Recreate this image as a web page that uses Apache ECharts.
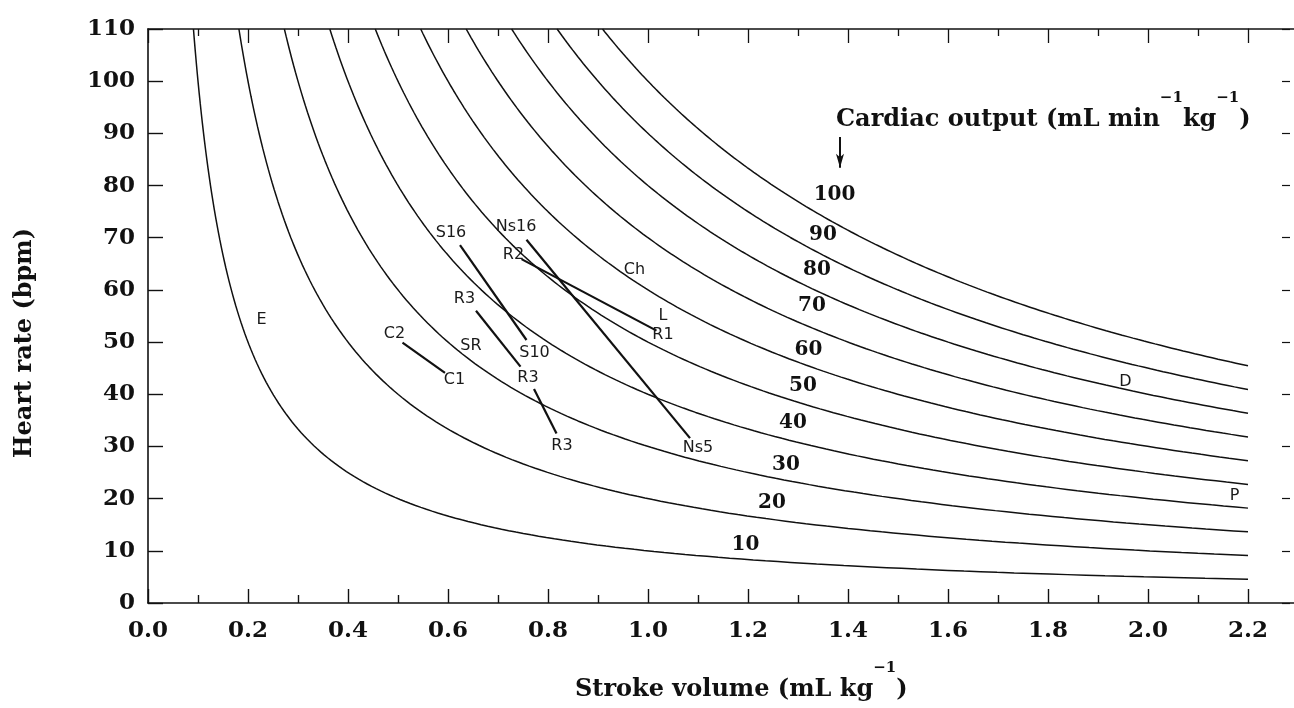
<!DOCTYPE html>
<html>
<head>
<meta charset="utf-8">
<script src="https://cdn.jsdelivr.net/npm/echarts@6/dist/echarts.min.js"></script>
<style>
  html, body { margin: 0; padding: 0; background: #ffffff; }
  #chart { width: 1294px; height: 708px; }
</style>
</head>
<body>
<div id="chart"></div>
<script>
// Heart rate against stroke volume, with cardiac-output isopleths (CO = HR x SV)

// axis ticks
const svTicks = [0.0, 0.2, 0.4, 0.6, 0.8, 1.0, 1.2, 1.4, 1.6, 1.8, 2.0, 2.2];
const hrTicks = [0, 10, 20, 30, 40, 50, 60, 70, 80, 90, 100, 110];

// cardiac output levels (mL min-1 kg-1) and where each level is tagged
const outputLevels = [10, 20, 30, 40, 50, 60, 70, 80, 90, 100];
const levelTagSV = [1.196, 1.249, 1.277, 1.291, 1.311, 1.322, 1.329, 1.339, 1.351, 1.374];
const levelTagHR = [11.0, 19.1, 26.4, 34.5, 41.5, 48.5, 56.8, 63.8, 70.5, 78.2];

// paired measurements: start point -> end point
const pairStartSV = [0.509, 0.624, 0.656, 0.772, 0.757, 0.747];
const pairStartHR = [49.9, 68.6, 56.0, 41.0, 69.6, 65.9];
const pairEndSV   = [0.594, 0.757, 0.745, 0.817, 1.084, 1.017];
const pairEndHR   = [44.1, 50.4, 45.3, 32.5, 31.6, 52.2];

// species / condition codes
const tagNames = ['C2', 'C1', 'S16', 'S10', 'R3', 'R3', 'R3', 'Ns16', 'Ns5', 'R2', 'R1', 'L', 'Ch', 'SR', 'E', 'D', 'P'];
const tagSV = [0.494, 0.614, 0.607, 0.774, 0.634, 0.761, 0.829, 0.737, 1.101, 0.732, 1.031, 1.031, 0.974, 0.647, 0.228, 1.956, 2.174];
const tagHR = [51.4, 42.7, 70.9, 47.9, 58.1, 43.1, 30.0, 72.0, 29.6, 66.7, 51.2, 54.9, 63.8, 49.1, 54.2, 42.3, 20.4];

// pointer from the cardiac output caption down to the 100 level
const pointerSV = [1.384, 1.384];
const pointerHR = [89.3, 83.4];

const ink = '#111111';
const serif = '"DejaVu Serif", "Liberation Serif", serif';
const sans = '"DejaVu Sans", "Liberation Sans", sans-serif';

const svMin = svTicks[0], svMax = svTicks[svTicks.length - 1];
const hrMin = hrTicks[0], hrMax = hrTicks[hrTicks.length - 1];

// an isopleth: every (SV, HR) with SV * HR = co, from the top of the plot to svMax
function isopleth(co) {
  const s0 = co / hrMax;
  const n = 160;
  const pts = [];
  for (let i = 0; i <= n; i++) {
    const s = s0 * Math.pow(svMax / s0, i / n);
    pts.push([s, co / s]);
  }
  return pts;
}

const series = [];

outputLevels.forEach(function (co) {
  series.push({
    type: 'line',
    data: isopleth(co),
    symbol: 'none',
    showSymbol: false,
    lineStyle: { color: ink, width: 1.5 },
    silent: true,
    z: 2
  });
});

pairStartSV.forEach(function (_, i) {
  series.push({
    type: 'line',
    data: [[pairStartSV[i], pairStartHR[i]], [pairEndSV[i], pairEndHR[i]]],
    symbol: 'none',
    showSymbol: false,
    lineStyle: { color: ink, width: 2.2 },
    silent: true,
    z: 3
  });
});

function textMarks(names, xs, ys, labelStyle) {
  return {
    type: 'scatter',
    data: names.map(function (n, i) { return { name: n, value: [xs[i], ys[i]] }; }),
    symbol: 'circle',
    symbolSize: 1,
    itemStyle: { color: 'rgba(255,255,255,0)', opacity: 1 },
    label: Object.assign({
      show: true,
      position: [0, 0],
      align: 'center',
      verticalAlign: 'middle',
      opacity: 1,
      textBorderWidth: 0,
      formatter: function (p) { return p.name; }
    }, labelStyle),
    silent: true,
    z: 4
  };
}

series.push(textMarks(tagNames, tagSV, tagHR, {
  fontFamily: sans, fontSize: 16, color: '#1a1a1a'
}));

series.push(textMarks(outputLevels.map(String), levelTagSV, levelTagHR, {
  fontFamily: serif, fontWeight: 'bold', fontSize: 20, color: ink
}));

// caption pointer: shaft plus a downward arrow head at its lower end
series.push({
  type: 'line',
  data: [
    { value: [pointerSV[0], pointerHR[0]], symbol: 'none' },
    { value: [pointerSV[1], pointerHR[1]], symbol: 'arrow', symbolSize: [6, 14], symbolRotate: 180 }
  ],
  showSymbol: true,
  lineStyle: { color: ink, width: 2 },
  itemStyle: { color: ink, opacity: 1 },
  silent: true,
  z: 4
});

const tickLabelStyle = {
  fontFamily: serif,
  fontWeight: 'bold',
  fontSize: 23,
  color: ink
};

const richTitle = {
  m: { fontFamily: serif, fontWeight: 'bold', fontSize: 24, height: 25, verticalAlign: 'bottom', fill: ink },
  s: { fontFamily: serif, fontWeight: 'bold', fontSize: 15, height: 16, padding: [0, 0, 26, 0], verticalAlign: 'top', fill: ink }
};

const option = {
  backgroundColor: '#ffffff',
  animation: false,
  grid: {
    left: 148, right: 46, top: 29, bottom: 105,
    containLabel: false,
    outerBoundsMode: 'none'
  },
  xAxis: [
    {
      type: 'value',
      position: 'bottom',
      min: svMin, max: svMax, interval: svTicks[1] - svTicks[0],
      axisLine: { show: true, onZero: false, lineStyle: { color: ink, width: 1.6 } },
      axisTick: { show: true, inside: true, length: 14, lineStyle: { color: ink, width: 1.4 } },
      minorTick: { show: true, splitNumber: 2, length: 8, lineStyle: { color: ink, width: 1.4 } },
      splitLine: { show: false },
      minorSplitLine: { show: false },
      axisLabel: Object.assign({ margin: 17, formatter: function (v) { return v.toFixed(1); } }, tickLabelStyle)
    },
    {
      type: 'value',
      position: 'top',
      min: svMin, max: svMax, interval: svTicks[1] - svTicks[0],
      axisLine: { show: true, onZero: false, lineStyle: { color: ink, width: 1.6 } },
      axisTick: { show: true, inside: true, length: 14, lineStyle: { color: ink, width: 1.3 } },
      minorTick: { show: true, splitNumber: 2, length: 7, lineStyle: { color: ink, width: 1.3 } },
      splitLine: { show: false },
      minorSplitLine: { show: false },
      axisLabel: { show: false }
    }
  ],
  yAxis: [
    {
      type: 'value',
      position: 'left',
      min: hrMin, max: hrMax, interval: hrTicks[1] - hrTicks[0],
      axisLine: { show: true, onZero: false, lineStyle: { color: ink, width: 1.6 } },
      axisTick: { show: true, inside: true, length: 15, lineStyle: { color: ink, width: 1.4 } },
      splitLine: { show: false },
      axisLabel: Object.assign({ margin: 13 }, tickLabelStyle)
    },
    {
      type: 'value',
      position: 'right',
      offset: 42,
      min: hrMin, max: hrMax, interval: hrTicks[1] - hrTicks[0],
      axisLine: { show: false, onZero: false },
      axisTick: { show: true, inside: true, length: 8, lineStyle: { color: ink, width: 1.2 } },
      splitLine: { show: false },
      axisLabel: { show: false }
    }
  ],
  graphic: [
    { type: 'line', silent: true, shape: { x1: 1248, y1: 603, x2: 1294, y2: 603 }, style: { stroke: ink, lineWidth: 1.6 } },
    { type: 'line', silent: true, shape: { x1: 1248, y1: 29, x2: 1294, y2: 29 }, style: { stroke: ink, lineWidth: 1.6 } },
    {
      type: 'text', silent: true, x: 836, y: 90,
      style: {
        text: '{m|Cardiac output (mL min}{s|\u22121}{m|kg}{s|\u22121}{m|)}',
        rich: richTitle, fill: ink, align: 'left', verticalAlign: 'top'
      }
    },
    {
      type: 'text', silent: true, x: 575, y: 660,
      style: {
        text: '{m|Stroke volume (mL kg}{s|\u22121}{m|)}',
        rich: richTitle, fill: ink, align: 'left', verticalAlign: 'top'
      }
    },
    {
      type: 'text', silent: true, x: 25, y: 343, rotation: Math.PI / 2,
      style: {
        text: 'Heart rate (bpm)',
        fontFamily: serif, fontWeight: 'bold', fontSize: 24,
        fill: ink, align: 'center', verticalAlign: 'middle'
      }
    }
  ],
  series: series
};

const chart = echarts.init(document.getElementById('chart'), null, { renderer: 'canvas' });
chart.setOption(option);
</script>
</body>
</html>
